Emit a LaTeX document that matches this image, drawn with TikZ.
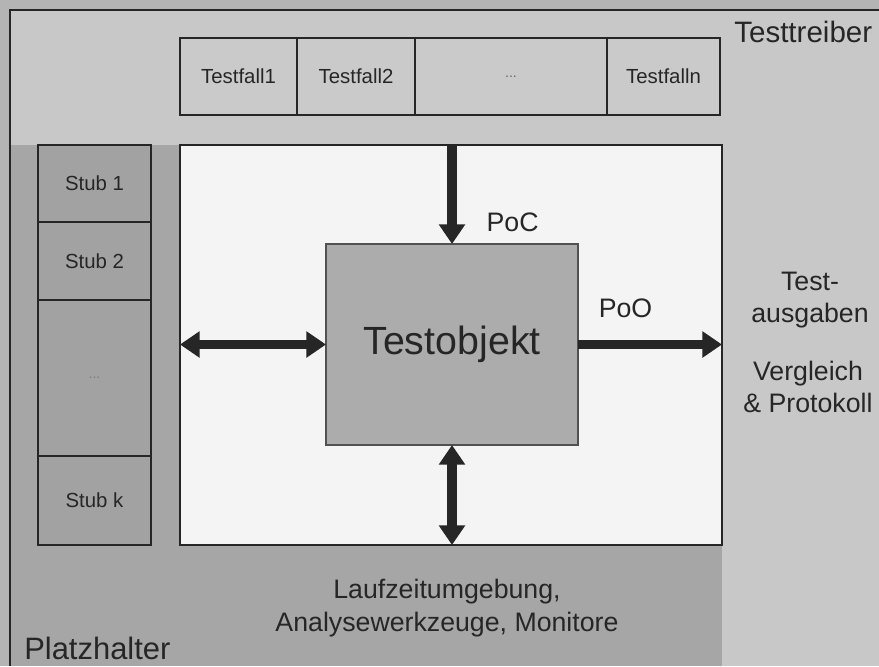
\documentclass[tikz,border=0pt]{standalone}
\usepackage{fontspec}
\setmainfont{Liberation Sans}
\usepackage{tikz}
\usetikzlibrary{arrows.meta,positioning}
\newdimen\unitpx
\unitpx=0.025cm
\definecolor{slidebg}{HTML}{C8C8C8}
\definecolor{hostbg}{HTML}{A6A6A6}
\definecolor{stubgray}{HTML}{A2A2A2}
\definecolor{objgray}{HTML}{ACACAC}
\definecolor{casegray}{HTML}{CACACA}
\definecolor{envwhite}{HTML}{F4F4F4}
\definecolor{ink}{HTML}{262626}

\begin{document}
\begin{tikzpicture}[x=0.025cm, y=-0.025cm,
    % --- node styles ---
    cell/.style={
      rectangle, draw=ink, line width=1pt, fill=casegray,
      inner sep=0pt, outer sep=0pt, minimum height=77\unitpx,
      font=\fontsize{14.5}{16}\selectfont, text=ink},
    stubbox/.style={
      rectangle, draw=ink, line width=1pt, fill=stubgray,
      inner sep=0pt, outer sep=0pt, minimum width=113\unitpx,
      font=\fontsize{14.5}{16}\selectfont, text=ink},
    envbox/.style={
      rectangle, draw=ink, line width=1.4pt, fill=envwhite,
      inner sep=0pt, outer sep=0pt,
      minimum width=542\unitpx, minimum height=400\unitpx},
    objbox/.style={
      rectangle, draw=ink!80, line width=0.8pt, fill=objgray,
      inner sep=0pt, outer sep=0pt,
      minimum width=252\unitpx, minimum height=201\unitpx,
      font=\fontsize{28}{30}\selectfont, text=ink},
    caption/.style={
      align=center, text=ink, inner sep=0pt,
      font=\fontsize{19}{23}\selectfont},
    fat/.style={-{Triangle[length=14pt, width=18pt]}, line width=6.5pt, draw=ink},
    fatboth/.style={{Triangle[length=14pt, width=18pt]}-{Triangle[length=14pt, width=18pt]},
      line width=6.5pt, draw=ink},
  ]

  % ============== BACKGROUND ==============
  \useasboundingbox (0,0) rectangle (879,666);
  \fill[slidebg!90!black] (0,0) rectangle (879,666);
  \fill[slidebg] (10,10) rectangle (879,666);
  \fill[hostbg] (10,145) rectangle (722,666);
  \draw[ink, line width=1.8pt] (10,666) -- (10,10) -- (879,10);

  % ============== TEST DRIVER (top row) ==============
  \node[cell, minimum width=117\unitpx, anchor=north west] at (180,38) (tc1) {Testfall1};
  \node[cell, minimum width=118\unitpx, right=0pt of tc1] (tc2) {Testfall2};
  \node[cell, minimum width=192\unitpx, right=0pt of tc2] (tcdots) {\fontsize{10}{12}\selectfont\textcolor{ink!70}{...}};
  \node[cell, minimum width=113\unitpx, right=0pt of tcdots] (tcn) {Testfalln};
  \node[caption, anchor=north west, font=\fontsize{21}{24}\selectfont] at (734,21) (driver) {Testtreiber};

  % ============== STUBS (left column) ==============
  \node[stubbox, minimum height=77\unitpx, anchor=north west] at (38,145) (stub1) {Stub 1};
  \node[stubbox, minimum height=78\unitpx, below=0pt of stub1] (stub2) {Stub 2};
  \node[stubbox, minimum height=156\unitpx, below=0pt of stub2] (stubdots) {\fontsize{10}{12}\selectfont\textcolor{ink!60}{...}};
  \node[stubbox, minimum height=89\unitpx, below=0pt of stubdots] (stubk) {Stub k};

  % ============== TEST OBJECT ==============
  \node[envbox, anchor=north west] at (180,145) (env) {};
  \node[objbox, anchor=north west] at (326,244) (obj) {Testobjekt};

  % ============== ARROWS ==============
  \draw[fat] (env.north -| obj) -- (obj.north)
    node[caption, pos=0.78, anchor=west, xshift=30\unitpx] (poc) {PoC};
  \draw[fat] (obj.east) -- (obj.east -| env.east)
    node[caption, pos=0.33, anchor=south, yshift=22\unitpx] (poo) {PoO};
  \draw[fatboth] (obj.west) -- (obj.west -| env.west);
  \draw[fatboth] (obj.south) -- (obj.south |- env.south);

  % ============== LABELS ==============
  \node[caption] at (810,300) (outputs) {Test-\\ausgaben};
  \node[caption] at (808,387) (compare) {Vergleich\\\& Protokoll};
  \node[caption] at (447,608) (runtime) {Laufzeitumgebung,\\Analysewerkzeuge, Monitore};
  \node[caption, anchor=west, font=\fontsize{22}{25}\selectfont] at (24,648) (stubs) {Platzhalter};

\end{tikzpicture}
\end{document}
